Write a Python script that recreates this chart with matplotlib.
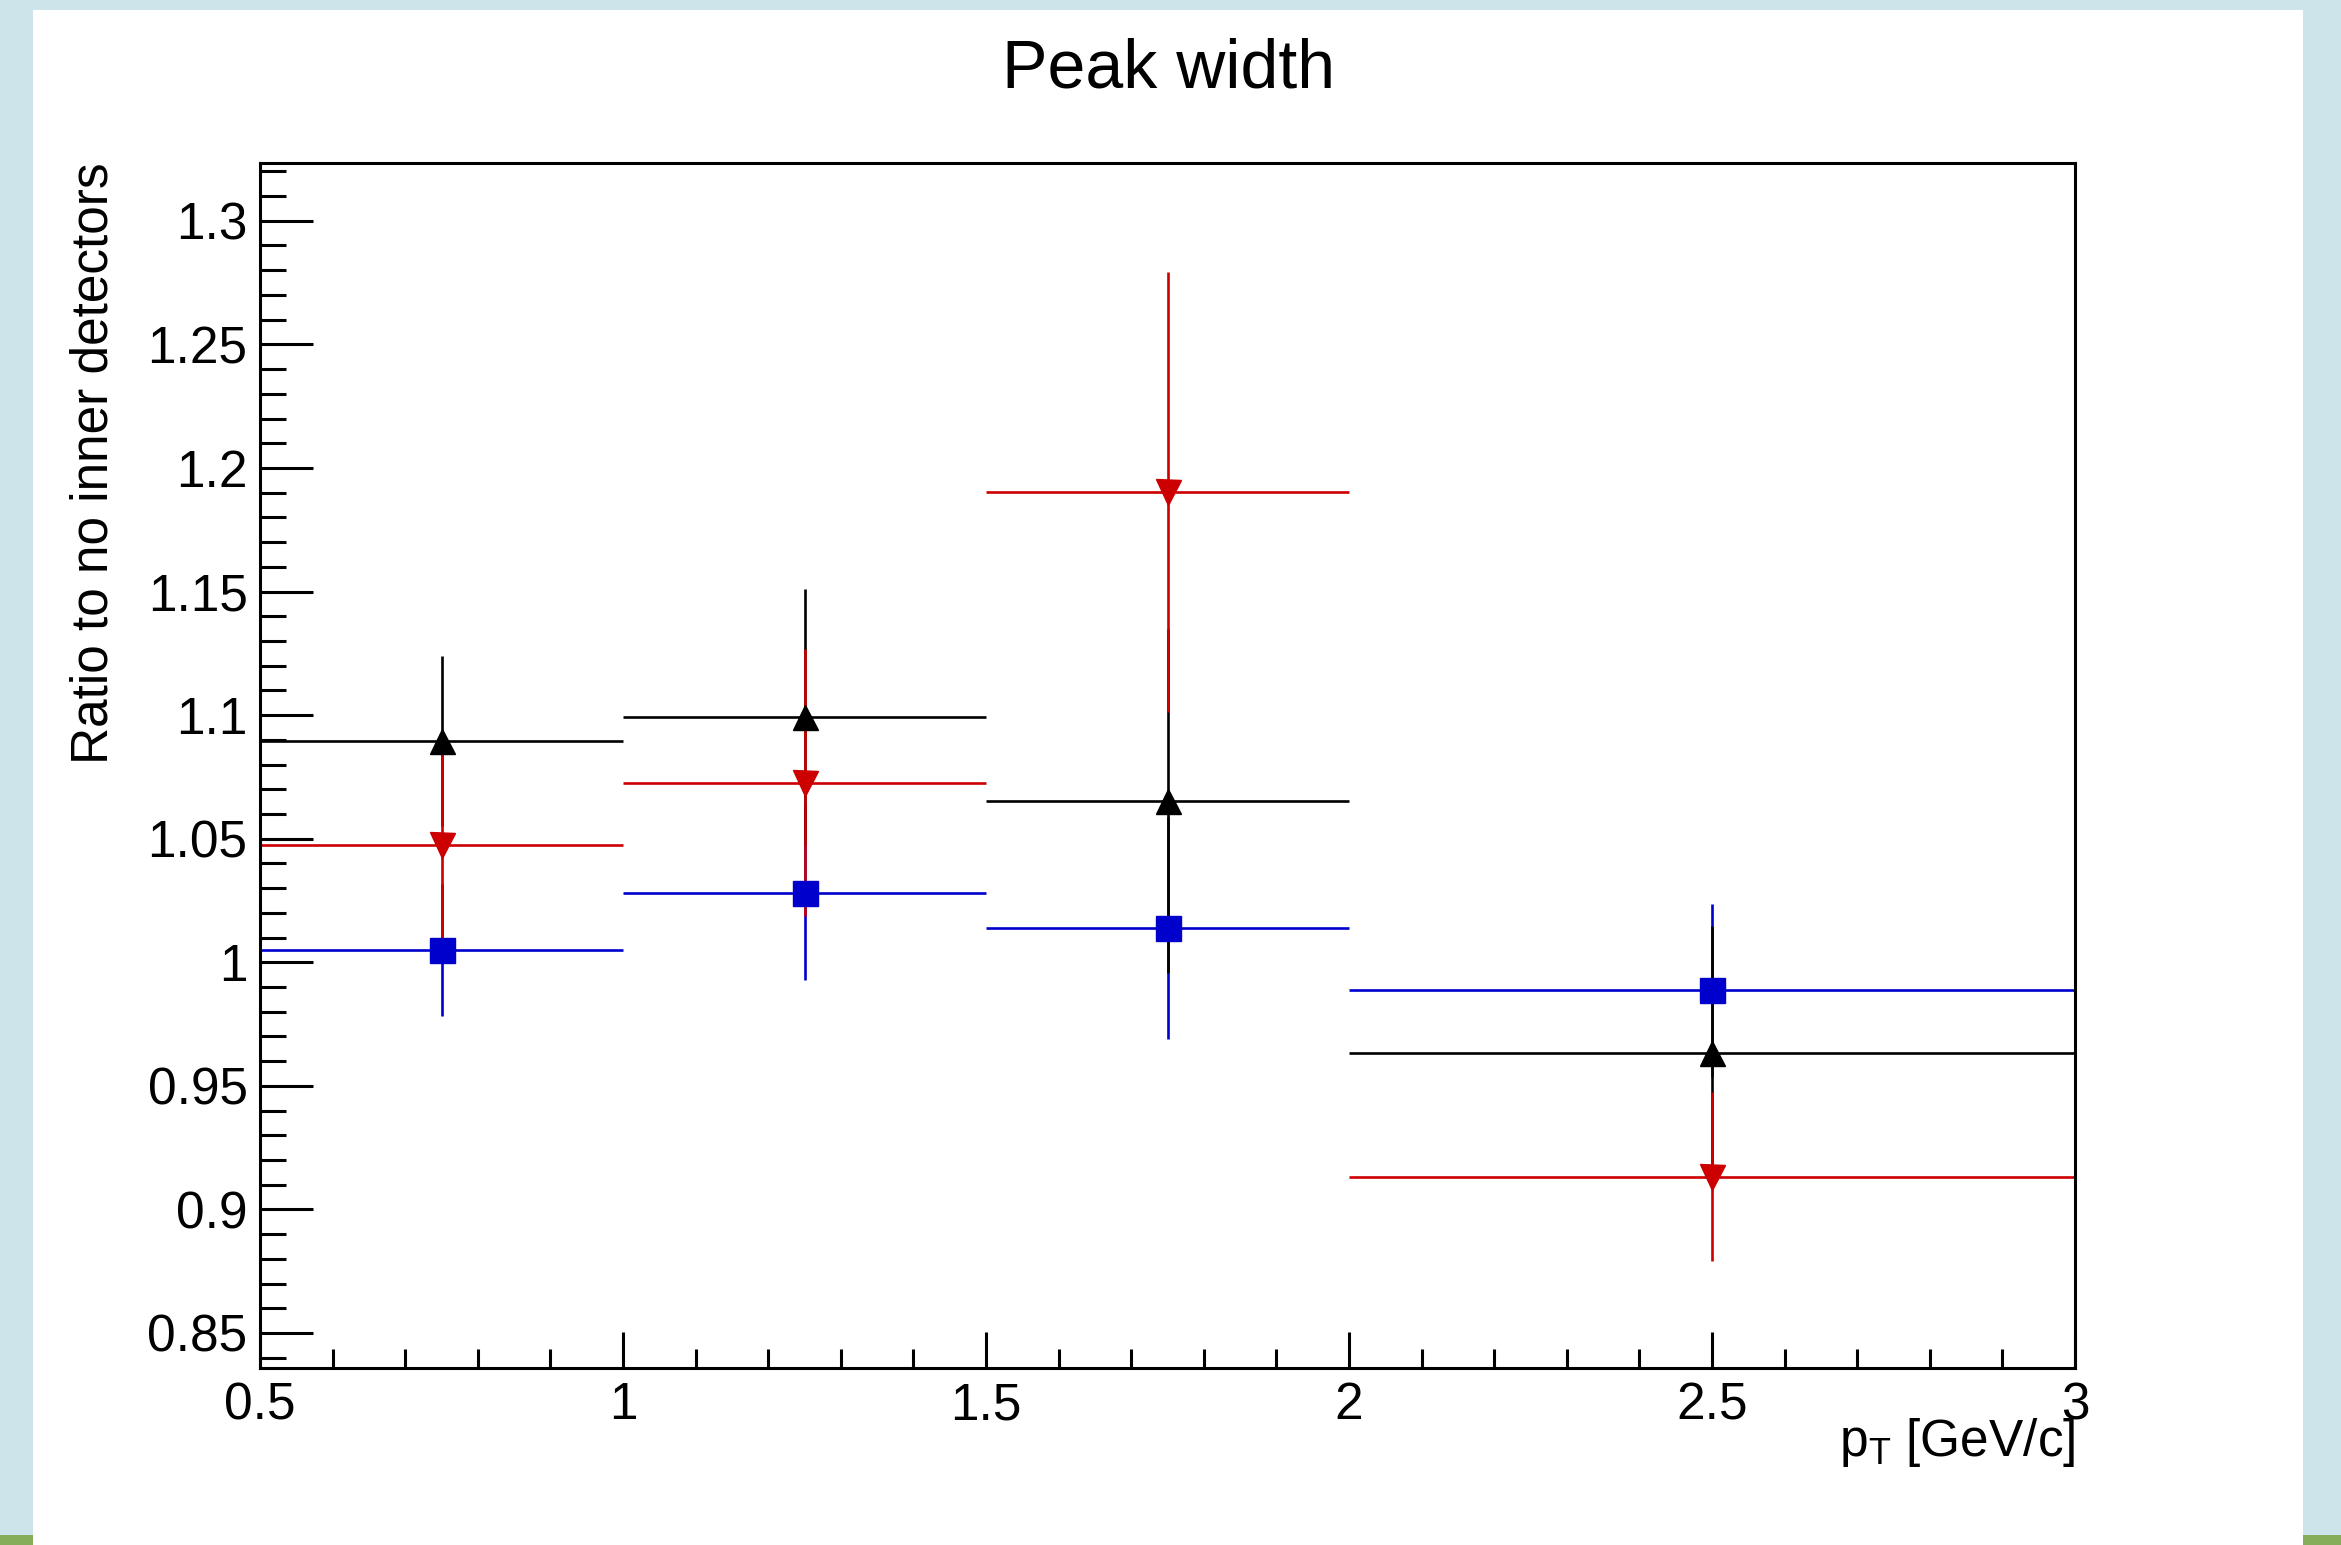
import numpy as np
import matplotlib
matplotlib.use("Agg")
import matplotlib.pyplot as plt
from matplotlib.ticker import MultipleLocator, FormatStrFormatter
from matplotlib.patches import Rectangle

# bins in pT
bin_lo = [0.5, 1.0, 1.5, 2.0]
bin_hi = [1.0, 1.5, 2.0, 3.0]

# peak width ratio, one list per detector setup
blue_val = [1.0048, 1.0282, 1.0140, 0.9886]
blue_err = [0.0267, 0.0355, 0.0449, 0.0350]
black_val = [1.0895, 1.0993, 1.0653, 0.9633]
black_err = [0.0343, 0.0518, 0.0695, 0.0514]
red_val = [1.0475, 1.0727, 1.1902, 0.9133]
red_err = [0.0405, 0.0540, 0.0890, 0.0343]

title = "Peak width"
xlabel = r"$\mathrm{p_{T}}$ [GeV/c]"
ylabel = "Ratio to no inner detectors"

plt.rcParams["font.family"] = ["Liberation Sans", "DejaVu Sans"]
plt.rcParams["mathtext.fontset"] = "custom"
plt.rcParams["mathtext.rm"] = "Liberation Sans"
plt.rcParams["mathtext.it"] = "Liberation Sans"

W, H = 2341, 1545
fig = plt.figure(figsize=(W / 100, H / 100), dpi=100, facecolor="#cde4ea")

# white pad on the light blue frame
fig.patches.append(Rectangle((33 / W, 0), (2303 - 33) / W, 1 - 10 / H,
                             transform=fig.transFigure, facecolor="white",
                             edgecolor="none", zorder=-10))
for x0, x1 in [(0, 33), (2303, W)]:
    fig.patches.append(Rectangle((x0 / W, 0), (x1 - x0) / W, 10 / H,
                                 transform=fig.transFigure, facecolor="#86ae5a",
                                 edgecolor="none", zorder=-10))

ax = fig.add_axes([260 / W, 1 - 1367.6 / H, (2075 - 260) / W, (1367.6 - 162.7) / H])
ax.set_zorder(1)
ax.set_facecolor("white")

lo = np.array(bin_lo)
hi = np.array(bin_hi)
xc = (lo + hi) / 2
xw = (hi - lo) / 2

series = [
    (blue_val, blue_err, "#0000cc", "s"),
    (black_val, black_err, "black", "^"),
    (red_val, red_err, "#cc0000", "v"),
]
for vals, errs, col, mk in series:
    ax.errorbar(xc, vals, xerr=xw, yerr=errs, fmt=mk, color=col, ms=18,
                mec=col, mfc=col, elinewidth=1.9, capsize=0, linestyle="none")

ax.set_xlim(0.5, 3.0)
ax.set_ylim(0.836, 1.3235)

ax.xaxis.set_major_locator(MultipleLocator(0.5))
ax.xaxis.set_minor_locator(MultipleLocator(0.1))
ax.yaxis.set_major_locator(MultipleLocator(0.05))
ax.yaxis.set_minor_locator(MultipleLocator(0.01))
ax.xaxis.set_major_formatter(FormatStrFormatter("%g"))
ax.yaxis.set_major_formatter(FormatStrFormatter("%g"))

ax.tick_params(axis="both", which="both", direction="in", width=2.2,
               labelsize=37, top=False, right=False)
ax.tick_params(axis="x", which="major", length=26, pad=10)
ax.tick_params(axis="x", which="minor", length=13.5)
ax.tick_params(axis="y", which="major", length=38, pad=9)
ax.tick_params(axis="y", which="minor", length=19)

for sp in ax.spines.values():
    sp.set_linewidth(2.2)

ax.set_xlabel(xlabel, fontsize=37, loc="right")
ax.xaxis.set_label_coords(1.0, -0.04)
ax.set_ylabel(ylabel, fontsize=37, loc="top")
ax.yaxis.set_label_coords(-0.078, 1.0)

fig.text(1168 / W, 1 - 87 / H, title, fontsize=49, ha="center", va="baseline")

fig.savefig("out.png", dpi=100, facecolor=fig.get_facecolor())
